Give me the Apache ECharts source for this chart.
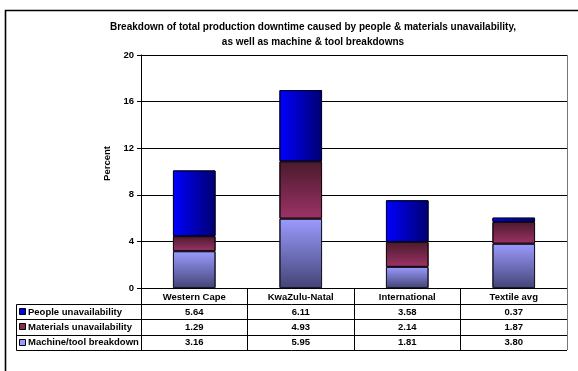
<!DOCTYPE html>
<html>
<head>
<meta charset="utf-8">
<script src="https://cdn.jsdelivr.net/npm/echarts@6/dist/echarts.min.js"></script>
<style>
  html, body { margin: 0; padding: 0; background: #fff; }
  #chart { width: 578px; height: 371px; }
</style>
</head>
<body>
<div id="chart"></div>
<script>
// data
var categories = ["Western Cape", "KwaZulu-Natal", "International", "Textile avg"];
var people = [5.64, 6.11, 3.58, 0.37];
var materials = [1.29, 4.93, 2.14, 1.87];
var machine = [3.16, 5.95, 1.81, 3.80];
var yTicks = [0, 4, 8, 12, 16, 20];

var FONT = "'Liberation Sans', Arial, sans-serif";
var gridLeft = 141, gridRight = 11, gridTop = 55, gridBottom = 83;

var peopleFill = new echarts.graphic.LinearGradient(0, 0, 1, 0, [
  { offset: 0, color: "#0000ff" },
  { offset: 1, color: "#000070" }
]);
var materialsFill = new echarts.graphic.LinearGradient(0, 0, 0, 1, [
  { offset: 0, color: "#4a1a2c" },
  { offset: 1, color: "#9c3366" }
]);
var machineFill = new echarts.graphic.LinearGradient(0, 0, 0, 1, [
  { offset: 0, color: "#9b9bff" },
  { offset: 1, color: "#444477" }
]);

// rows of the data table, in the order they are listed
var tableRows = [
  { name: "People unavailability", values: people, key: "#0000ee" },
  { name: "Materials unavailability", values: materials, key: "#8a2c50" },
  { name: "Machine/tool breakdown", values: machine, key: "#9999ff" }
];

var chart = echarts.init(document.getElementById("chart"));

var option = {
  animation: false,
  backgroundColor: "#fff",
  textStyle: { fontFamily: FONT },
  title: {
    text: "Breakdown of total production downtime caused by people & materials unavailability,\nas well as machine & tool breakdowns",
    left: 308,
    top: 15,
    textAlign: "center",
    textStyle: { fontSize: 10, fontWeight: "bold", color: "#000", lineHeight: 15, fontFamily: FONT }
  },
  grid: { left: gridLeft, right: gridRight, top: gridTop, bottom: gridBottom },
  xAxis: {
    type: "category",
    data: categories,
    axisLine: { lineStyle: { color: "#000", width: 1 } },
    axisTick: { show: true, length: 62, lineStyle: { color: "#000" } },
    axisLabel: { color: "#000", fontSize: 9.5, fontWeight: "bold", margin: 4, fontFamily: FONT }
  },
  yAxis: {
    type: "value",
    min: yTicks[0],
    max: yTicks[yTicks.length - 1],
    interval: 4,
    name: "Percent",
    nameLocation: "middle",
    nameGap: 26,
    nameTextStyle: { color: "#000", fontSize: 9.5, fontWeight: "bold", fontFamily: FONT, padding: [0, 0, 0, 16] },
    axisLine: { show: true, lineStyle: { color: "#000" } },
    axisTick: { show: true, length: 4, lineStyle: { color: "#000" } },
    axisLabel: { color: "#000", fontSize: 9.5, fontWeight: "bold", margin: 7, fontFamily: FONT },
    splitLine: { show: true, lineStyle: { color: "#000", width: 1 } }
  },
  series: [
    {
      name: "Machine/tool breakdown",
      type: "bar",
      stack: "total",
      barWidth: "40%",
      data: machine,
      itemStyle: { color: machineFill, borderColor: "#1a1a2a", borderWidth: 1 }
    },
    {
      name: "Materials unavailability",
      type: "bar",
      stack: "total",
      data: materials,
      itemStyle: { color: materialsFill, borderColor: "#1a0a10", borderWidth: 1 }
    },
    {
      name: "People unavailability",
      type: "bar",
      stack: "total",
      data: people,
      itemStyle: { color: peopleFill, borderColor: "#000033", borderWidth: 1 }
    }
  ]
};
chart.setOption(option);

// data table under the plot, laid out from the axis
function buildTable() {
  var W = chart.getWidth(), H = chart.getHeight();
  var plotRight = W - gridRight;
  var axisY = H - gridBottom;
  var headerH = 16, rowH = 15.3;
  var tableLeft = 16.5;
  var els = [];

  // outer frame of the figure (cut off at right and bottom)
  els.push({
    type: "rect", silent: true, z: 100,
    shape: { x: 5.5, y: 10.5, width: W + 20, height: H + 20 },
    style: { fill: null, stroke: "#000", lineWidth: 1.6 }
  });

  // right border of plot and table
  els.push({
    type: "line", silent: true, z: 100,
    shape: { x1: plotRight + 0.5, y1: gridTop, x2: plotRight + 0.5, y2: axisY + headerH + rowH * 3 },
    style: { stroke: "#777", lineWidth: 1 }
  });

  var rowsTop = axisY + headerH;
  for (var i = 0; i <= tableRows.length; i++) {
    var y = Math.round(rowsTop + i * rowH) + 0.5;
    els.push({
      type: "line", silent: true, z: 100,
      shape: { x1: tableLeft, y1: y, x2: plotRight, y2: y },
      style: { stroke: "#000", lineWidth: 1 }
    });
  }
  var tableBottom = Math.round(rowsTop + tableRows.length * rowH) + 0.5;
  els.push({
    type: "line", silent: true, z: 100,
    shape: { x1: tableLeft, y1: Math.round(rowsTop) + 0.5, x2: tableLeft, y2: tableBottom },
    style: { stroke: "#000", lineWidth: 1 }
  });

  tableRows.forEach(function (row, r) {
    var cy = rowsTop + r * rowH + rowH / 2 + 0.5;
    els.push({
      type: "rect", silent: true, z: 100,
      shape: { x: 19.5, y: Math.round(cy - 4) + 0.5, width: 6, height: 6 },
      style: { fill: row.key, stroke: "#000", lineWidth: 1 }
    });
    els.push({
      type: "text", silent: true, z: 100,
      x: 28, y: cy,
      style: { text: row.name, font: "bold 9.5px " + FONT, fill: "#000", align: "left", verticalAlign: "middle" }
    });
    row.values.forEach(function (v, c) {
      var cx = chart.convertToPixel({ xAxisIndex: 0 }, categories[c]);
      els.push({
        type: "text", silent: true, z: 100,
        x: cx, y: cy,
        style: { text: v.toFixed(2), font: "bold 9.5px " + FONT, fill: "#000", align: "center", verticalAlign: "middle" }
      });
    });
  });

  chart.setOption({ graphic: els });
}
buildTable();
</script>
</body>
</html>
